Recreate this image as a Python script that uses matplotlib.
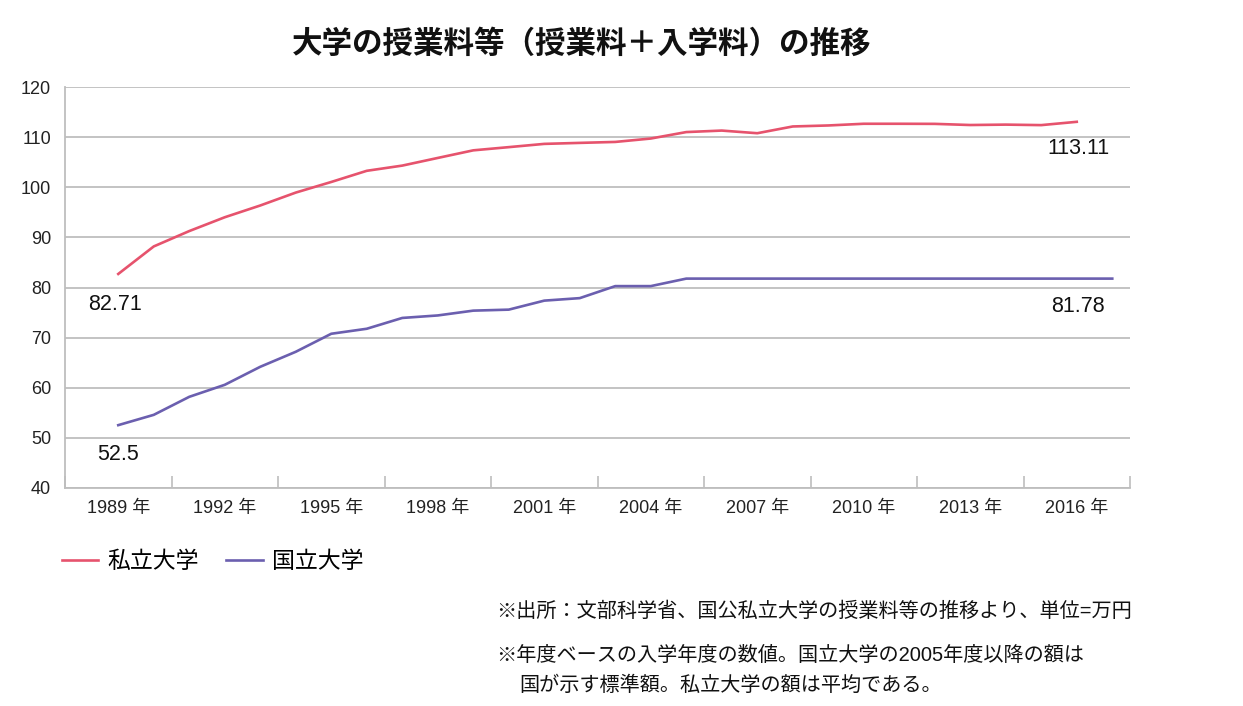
import matplotlib.pyplot as plt
from matplotlib.ticker import FixedLocator

plt.rcParams['font.family'] = ['Liberation Sans', 'Noto Sans CJK JP', 'DejaVu Sans']

# 私立大学 (1989-2016) and 国立大学 (1989-2017), 単位=万円
private_years = list(range(1989, 2017))
private_fee = [82.71, 88.21, 91.28, 94.04, 96.39, 98.97, 101.09, 103.32, 104.36, 105.89,
               107.41, 108.05, 108.70, 108.90, 109.09, 109.77, 111.06, 111.36, 110.83, 112.18,
               112.38, 112.72, 112.72, 112.70, 112.47, 112.55, 112.45, 113.11]
national_years = list(range(1989, 2018))
national_fee = [52.50, 54.56, 58.16, 60.56, 64.16, 67.16, 70.76, 71.76, 73.92, 74.42,
                75.38, 75.58, 77.38, 77.88, 80.28, 80.28, 81.78, 81.78, 81.78, 81.78,
                81.78, 81.78, 81.78, 81.78, 81.78, 81.78, 81.78, 81.78, 81.78]
label_years = list(range(1989, 2017, 3))

red = '#E6536D'
blue = '#6B5FAF'
grid_gray = '#BEBEBE'

fig = plt.figure(figsize=(12.43, 7.06), dpi=100)
ax = fig.add_axes([0.0523, 0.3092, 0.8568, 0.5671])

ax.plot(private_years, private_fee, color=red, lw=1.9, label='私立大学')
ax.plot(national_years, national_fee, color=blue, lw=1.9, label='国立大学')

ax.set_ylim(40, 120)
ax.set_yticks(range(40, 121, 10))
ax.set_xlim(1987.5, 2017.5)

# tick marks at group boundaries, labels at group centres
ax.xaxis.set_major_locator(FixedLocator([y - 1.5 for y in label_years] + [2017.5]))
ax.xaxis.set_minor_locator(FixedLocator(label_years))
ax.set_xticklabels([])
ax.set_xticklabels([f'{y} 年' for y in label_years], minor=True)
ax.tick_params(axis='x', which='major', direction='in', length=9, color=grid_gray, width=1.2)
ax.tick_params(axis='x', which='minor', length=0, labelsize=13, pad=9, labelcolor='#222222')
ax.tick_params(axis='y', length=0, labelsize=13, pad=10, labelcolor='#222222')

ax.yaxis.grid(True, color=grid_gray, lw=1.3)
ax.set_axisbelow(True)
for side in ['top', 'right']:
    ax.spines[side].set_visible(False)
for side in ['left', 'bottom']:
    ax.spines[side].set_color(grid_gray)
    ax.spines[side].set_linewidth(1.3)

# end value labels
ax.annotate(f'{private_fee[0]:.2f}', (private_years[0], private_fee[0]), xytext=(-2, -22),
            textcoords='offset points', ha='center', va='center', fontsize=15.5, color='#111111')
ax.annotate(f'{national_fee[0]:.1f}', (national_years[0], national_fee[0]), xytext=(0, -21),
            textcoords='offset points', ha='center', va='center', fontsize=15.5, color='#111111')
ax.annotate(f'{private_fee[-1]:.2f}', (private_years[-1], private_fee[-1]), xytext=(1, -19),
            textcoords='offset points', ha='center', va='center', fontsize=15.5, color='#111111')
ax.annotate(f'{national_fee[-1]:.2f}', (2016, national_fee[-1]), xytext=(1, -20),
            textcoords='offset points', ha='center', va='center', fontsize=15.5, color='#111111')

fig.text(0.468, 0.936, '大学の授業料等（授業料＋入学料）の推移', ha='center', va='center',
         fontsize=22, fontweight='bold', color='#111111')

fig.legend(loc='center left', bbox_to_anchor=(0.033, 0.205), ncol=2, frameon=False,
           fontsize=16.5, handlelength=1.6, handletextpad=0.4, columnspacing=1.2)

fig.text(0.399, 0.134, '※出所：文部科学省、国公私立大学の授業料等の推移より、単位=万円',
         ha='left', va='center', fontsize=14.5, color='#111111')
fig.text(0.399, 0.071, '※年度ベースの入学年度の数値。国立大学の2005年度以降の額は',
         ha='left', va='center', fontsize=14.5, color='#111111')
fig.text(0.418, 0.030, '国が示す標準額。私立大学の額は平均である。',
         ha='left', va='center', fontsize=14.5, color='#111111')

fig.savefig('out.png', dpi=100, facecolor='white')
